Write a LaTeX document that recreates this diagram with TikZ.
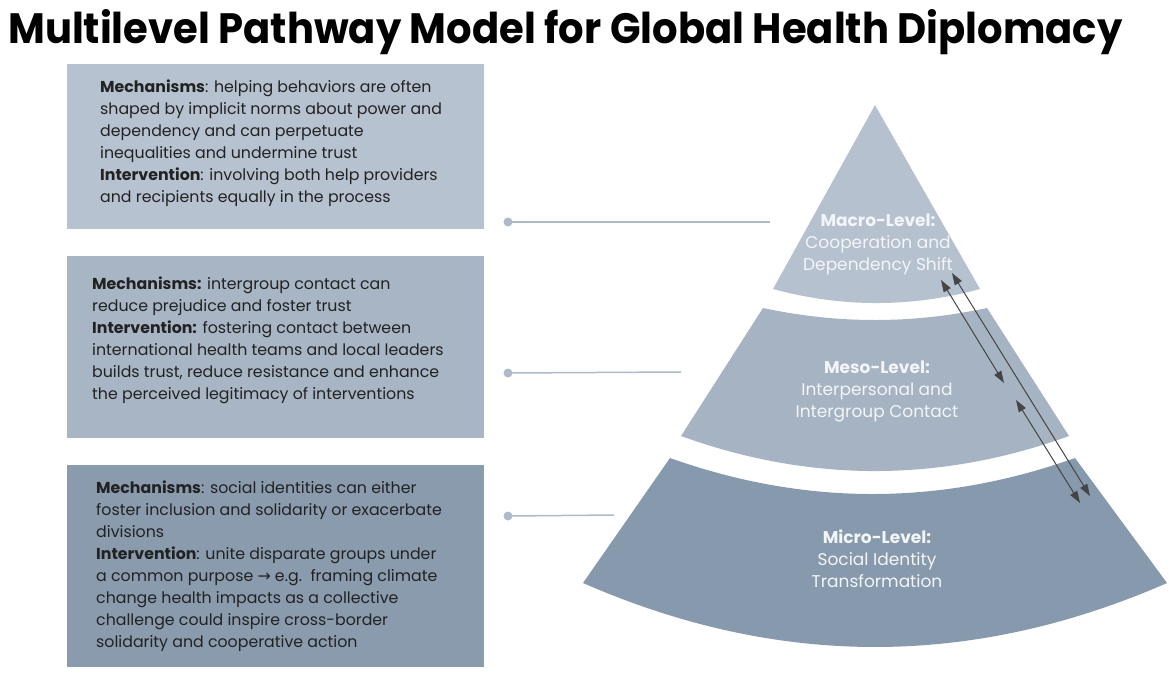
\documentclass[tikz,border=0pt]{standalone}
\usepackage{fontspec}
\setmainfont{Poppins}
\usetikzlibrary{arrows.meta}
\definecolor{boxA}{HTML}{B6C2CF}
\definecolor{boxB}{HTML}{A8B5C4}
\definecolor{boxC}{HTML}{8A9BAE}
\definecolor{pyrA}{HTML}{B5C1CE}
\definecolor{pyrB}{HTML}{A5B3C2}
\definecolor{pyrC}{HTML}{8799AC}
\definecolor{conn}{HTML}{AEBACA}
\definecolor{bodyink}{HTML}{222222}
\definecolor{lblink}{HTML}{F3F5F8}
\definecolor{arrink}{HTML}{454545}
\tikzset{
  panel/.style={draw=none, inner sep=0pt, minimum width=417pt, anchor=north west},
  bodytext/.style={anchor=north west, inner sep=0pt, align=left, text=bodyink,
    font=\fontsize{15.8}{22}\selectfont},
  lvltext/.style={inner sep=0pt, align=center, text=lblink,
    font=\fontsize{17}{22}\selectfont},
  leader/.style={draw=conn, line width=1.5pt},
  leaderdot/.style={circle, fill=conn, inner sep=0pt, minimum size=9pt},
  linkarrow/.style={draw=arrink, line width=1pt, {Triangle[length=12pt,width=8pt]}-{Triangle[length=12pt,width=8pt]}}
}
\begin{document}
\begin{tikzpicture}[x=1pt,y=-1pt]
\useasboundingbox (0,0) rectangle (1169,680);

% title
\node[anchor=base west, inner sep=0pt] (title) at (8,43)
  {\resizebox{1114pt}{34pt}{\bfseries Multilevel Pathway Model for Global Health Diplomacy}};

% panels
\node[panel, fill=boxA, minimum height=165pt] (p1) at (67,64) {};
\node[panel, fill=boxB, minimum height=182pt] (p2) at (67,256) {};
\node[panel, fill=boxC, minimum height=202pt] (p3) at (67,465) {};

\node[bodytext] (t1) at (100,80) {\textbf{Mechanisms}: helping behaviors are often\\
shaped by implicit norms about power and\\
dependency and can perpetuate\\
inequalities and undermine trust\\
\textbf{Intervention}: involving both help providers\\
and recipients equally in the process};

\node[bodytext] (t2) at (92,277) {\textbf{Mechanisms:} intergroup contact can\\
reduce prejudice and foster trust\\
\textbf{Intervention:} fostering contact between\\
international health teams and local leaders\\
builds trust, reduce resistance and enhance\\
the perceived legitimacy of interventions};

\node[bodytext] (t3) at (96,481) {\textbf{Mechanisms}: social identities can either\\
foster inclusion and solidarity or exacerbate\\
divisions\\
\textbf{Intervention}: unite disparate groups under\\
a common purpose {\fontspec{DejaVu Sans}→} e.g.\ \ framing climate\\
change health impacts as a collective\\
challenge could inspire cross-border\\
solidarity and cooperative action};

% pyramid
\fill[pyrA] (875,105) -- (980,289) .. controls (911,307.7) and (842,307.7) .. (773,289) -- cycle;
\fill[pyrB] (763,308) .. controls (838,324) and (912,324) .. (987,308) -- (1069,436)
  .. controls (940,482.7) and (810,482.7) .. (681,436) -- cycle;
\fill[pyrC] (670,458) .. controls (805,506) and (940,506) .. (1075,458) -- (1167,583)
  .. controls (972,668.3) and (778,668.3) .. (583,583) -- cycle;

\node[lvltext] (macro) at (878,244) {\textbf{Macro-Level:}\\Cooperation and\\Dependency Shift};
\node[lvltext] (meso) at (877,391) {\textbf{Meso-Level:}\\Interpersonal and\\Intergroup Contact};
\node[lvltext] (micro) at (877,559) {\textbf{Micro-Level:}\\Social Identity\\Transformation};

% leaders
\node[leaderdot] (d1) at (508,222) {};
\node[leaderdot] (d2) at (508,373) {};
\node[leaderdot] (d3) at (508,516) {};
\coordinate (e1) at (770,222);
\coordinate (e2) at (681,372);
\coordinate (e3) at (614,515);
\draw[leader] (d1.center) -- (e1);
\draw[leader] (d2.center) -- (e2);
\draw[leader] (d3.center) -- (e3);

% arrows between levels
\coordinate (a1s) at (941,280);
\coordinate (a1e) at (1004,383);
\coordinate (a2s) at (952,273);
\coordinate (a2e) at (1090,496);
\coordinate (a3s) at (1016,400);
\coordinate (a3e) at (1080,503);
\draw[linkarrow] (a1s) -- (a1e);
\draw[linkarrow] (a2s) -- (a2e);
\draw[linkarrow] (a3s) -- (a3e);
\end{tikzpicture}
\end{document}
